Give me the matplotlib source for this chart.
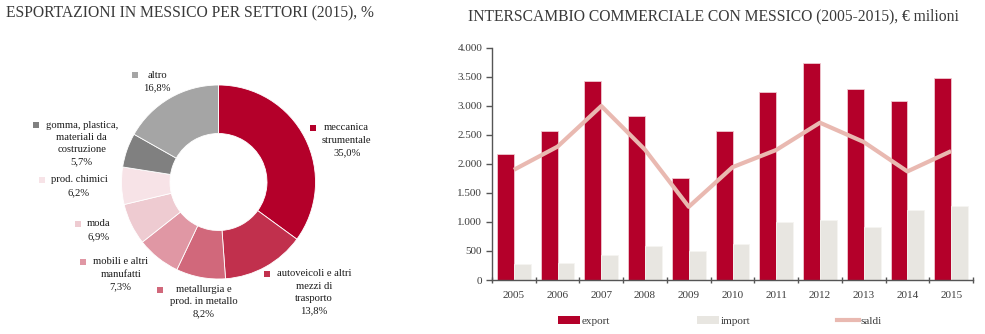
import matplotlib
matplotlib.use("Agg")
import matplotlib.pyplot as plt
import numpy as np
from matplotlib.patches import Rectangle, Patch
from matplotlib.lines import Line2D
from matplotlib.ticker import FuncFormatter

# ---------------- data ----------------
sectors = ["meccanica\nstrumentale", "autoveicoli e altri\nmezzi di\ntrasporto",
           "metallurgia e\nprod. in metallo", "mobili e altri\nmanufatti", "moda",
           "prod. chimici", "gomma, plastica,\nmateriali da\ncostruzione", "altro"]
shares = [35.0, 13.8, 8.2, 7.3, 6.9, 6.2, 5.7, 16.8]
sector_colors = ["#B4002A", "#C1304D", "#D1687B", "#E097A4", "#EECBD1",
                 "#F7E3E7", "#808080", "#A5A5A5"]

years = ["2005", "2006", "2007", "2008", "2009", "2010", "2011", "2012", "2013", "2014", "2015"]
export_vals = [2180, 2570, 3430, 2830, 1765, 2565, 3235, 3745, 3285, 3080, 3490]
import_vals = [276, 294, 432, 587, 506, 622, 996, 1036, 915, 1209, 1272]
saldi_vals = [1900, 2300, 3000, 2245, 1262, 1945, 2242, 2712, 2380, 1872, 2222]

W, H = 985, 334
SERIF = ["Liberation Serif", "DejaVu Serif"]
plt.rcParams['font.family'] = SERIF

fig = plt.figure(figsize=(W / 100, H / 100), dpi=100)

def fx(px):
    return px / W

def fy(py):
    return 1 - py / H

# ---------------- titles ----------------
fig.text(fx(6), fy(13), "ESPORTAZIONI IN MESSICO PER SETTORI (2015), %",
         fontsize=11.25, color="#3a3a3a", ha="left", va="center")
fig.text(fx(468), fy(16), "INTERSCAMBIO COMMERCIALE CON MESSICO (2005-2015), € milioni",
         fontsize=11.25, color="#3a3a3a", ha="left", va="center")

# ---------------- donut ----------------
cx, cy, R = 218.5, 182, 97
axp = fig.add_axes([fx(cx - R), fy(cy + R), 2 * R / W, 2 * R / H])
axp.pie(shares, colors=sector_colors, startangle=90, counterclock=False,
        radius=1, wedgeprops=dict(width=0.5, edgecolor="white", linewidth=0.6))
axp.set_xlim(-1, 1)
axp.set_ylim(-1, 1)
axp.set_aspect("equal")
axp.axis("off")

# label layout (pixel positions): text centre x, first line y, square x
label_pos = [(346.7, 128, 313.3), (314, 274, 266.7), (203.7, 289.5, 160),
             (120.7, 262, 83), (99, 224, 78), (79, 180, 41.7),
             (81.7, 125, 35.7), (157, 75, 134.7)]
LS = 12.3
for name, val, col, (tx, ty, sx) in zip(sectors, shares, sector_colors, label_pos):
    lines = name.split("\n") + [f"{val:.1f}".replace(".", ",") + "%"]
    for i, ln in enumerate(lines):
        fig.text(fx(tx), fy(ty + i * LS), ln, fontsize=7.7, color="#1a1a1a",
                 ha="center", va="center")
    s = 6
    fig.add_artist(Rectangle((fx(sx - s / 2), fy(ty + s / 2)), s / W, s / H,
                             transform=fig.transFigure, facecolor=col, edgecolor="none"))

# ---------------- bar chart ----------------
ax = fig.add_axes([fx(492), fy(280), (973 - 492) / W, (280 - 48) / H])
x = np.arange(len(years))
bw = 0.385
ax.bar(x - bw / 2, export_vals, width=bw, color="#B4002A", edgecolor="#EFC9D0",
       linewidth=0.6, zorder=2)
ax.bar(x + bw / 2, import_vals, width=bw, color="#E8E6E1", edgecolor="#F6F5F2",
       linewidth=0.6, zorder=2)
ax.plot(x, saldi_vals, color="#E9B9B1", linewidth=3.0, zorder=3, solid_capstyle="butt")

ax.set_xlim(-0.5, len(years) - 0.5)
ax.set_ylim(0, 4000)
ax.set_yticks(np.arange(0, 4001, 500))
ax.yaxis.set_major_formatter(FuncFormatter(lambda v, p: f"{v:,.0f}".replace(",", ".")))
ax.set_xticks(x)
ax.set_xticklabels(years)
ax.set_xticks(np.arange(-0.5, len(years), 1.0), minor=True)
ax.tick_params(axis="x", which="major", length=0, pad=8, labelsize=8, labelcolor="#3c3c3c")
ax.tick_params(axis="x", which="minor", length=5, width=1, color="#555555", direction="inout")
ax.tick_params(axis="y", which="major", length=4, width=1, color="#555555",
               labelsize=8, labelcolor="#3c3c3c", pad=3)
for side in ["top", "right"]:
    ax.spines[side].set_visible(False)
for side in ["left", "bottom"]:
    ax.spines[side].set_color("#555555")
    ax.spines[side].set_linewidth(1)
ax.set_facecolor("none")

handles = [Patch(facecolor="#B4002A", edgecolor="none"),
           Patch(facecolor="#E8E6E1", edgecolor="none"),
           Line2D([0], [0], color="#E9B9B1", linewidth=3)]
fig.legend(handles, ["export", "import", "saldi"], loc="center", ncol=3,
           bbox_to_anchor=(fx(720), fy(321)), frameon=False, fontsize=8,
           handlelength=2.0, handleheight=0.7, handletextpad=0.15, columnspacing=7.8,
           labelcolor="#3c3c3c")

fig.savefig("out.png", dpi=100)
